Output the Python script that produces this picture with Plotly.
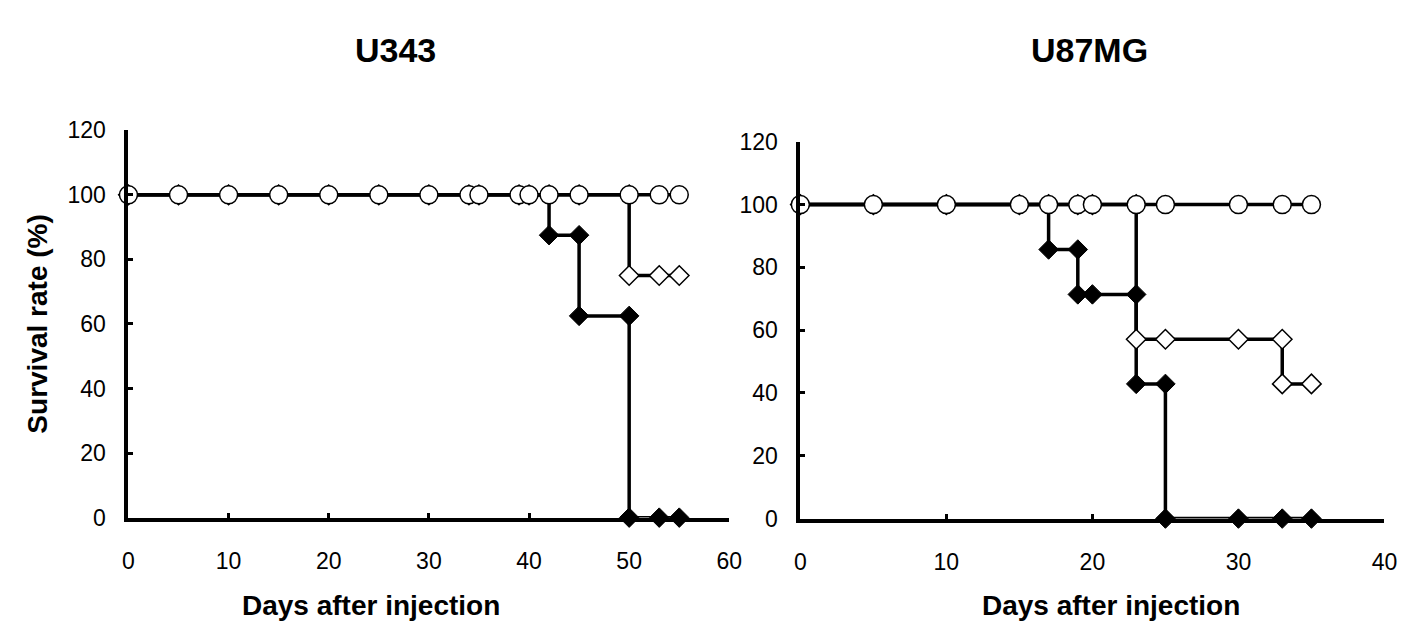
import plotly.graph_objects as go

# ---------------- data ----------------
# U343 panel
u343_days = [0, 5, 10, 15, 20, 25, 30, 34, 35, 39, 40, 42, 45, 50, 53, 55]
u343_circle = [100, 100, 100, 100, 100, 100, 100, 100, 100, 100, 100, 100, 100, 100, 100, 100]
u343_filled = [100, 100, 100, 100, 100, 100, 100, 100, 100, 100, 100, 87.5, 62.5, 0, 0, 0]
u343_open = [100, 100, 100, 100, 100, 100, 100, 100, 100, 100, 100, 100, 100, 75, 75, 75]

# U87MG panel
u87_days = [0, 5, 10, 15, 17, 19, 20, 23, 25, 30, 33, 35]
u87_circle = [100, 100, 100, 100, 100, 100, 100, 100, 100, 100, 100, 100]
u87_filled = [100, 100, 100, 100, 85.7, 71.4, 71.4, 42.9, 0, 0, 0, 0]
u87_open = [100, 100, 100, 100, 100, 100, 100, 57.1, 57.1, 57.1, 42.9, 42.9]

x_ticks_u343 = [0, 10, 20, 30, 40, 50, 60]
x_ticks_u87 = [0, 10, 20, 30, 40]
y_ticks = [0, 20, 40, 60, 80, 100, 120]

panel_titles = ["U343", "U87MG"]
x_title = "Days after injection"
y_title = "Survival rate (%)"


def step_path(days, surv):
    """Kaplan-Meier style path: vertical drop at the day of the change."""
    xs, ys = [days[0]], [surv[0]]
    for i in range(1, len(days)):
        if surv[i] != surv[i - 1]:
            xs.append(days[i]); ys.append(surv[i - 1])
        xs.append(days[i]); ys.append(surv[i])
    return xs, ys


FONT = "Arial, Liberation Sans, sans-serif"
fig = go.Figure()

panels = [
    (u343_days, u343_filled, u343_open, u343_circle, "x", "y"),
    (u87_days, u87_filled, u87_open, u87_circle, "x2", "y2"),
]

for days, filled, opn, circ, xa, ya in panels:
    fx, fy = step_path(days, filled)
    fig.add_trace(go.Scatter(
        x=fx, y=fy, xaxis=xa, yaxis=ya, mode="lines+markers",
        line=dict(color="black", width=3.5),
        marker=dict(symbol="diamond", size=15, color="black",
                    line=dict(color="black", width=1)),
        cliponaxis=False, showlegend=False))
    ox, oy = step_path(days, opn)
    fig.add_trace(go.Scatter(
        x=ox, y=oy, xaxis=xa, yaxis=ya, mode="lines+markers",
        line=dict(color="black", width=3.5),
        marker=dict(symbol="diamond", size=15, color="white",
                    line=dict(color="black", width=1.5)),
        cliponaxis=False, showlegend=False))
    cx, cy = step_path(days, circ)
    fig.add_trace(go.Scatter(
        x=cx, y=cy, xaxis=xa, yaxis=ya, mode="lines+markers",
        line=dict(color="black", width=3.5),
        marker=dict(symbol="circle", size=18, color="white",
                    line=dict(color="black", width=1.5)),
        cliponaxis=False, showlegend=False))

W, H = 1423, 630


def px(x):
    return x / W


def py(y):
    return 1 - y / H


axis_common = dict(
    showgrid=False, zeroline=False, showline=True, linecolor="black",
    linewidth=4, ticks="inside", ticklen=5, tickwidth=3, tickcolor="black",
    tickfont=dict(family=FONT, size=23, color="black"),
)

fig.update_layout(
    width=W, height=H,
    margin=dict(l=0, r=0, t=0, b=0),
    paper_bgcolor="white", plot_bgcolor="white",
    xaxis=dict(domain=[px(116), px(725)], range=[0, 60], tickvals=x_ticks_u343,
               anchor="y", ticklabelstandoff=20, **axis_common),
    yaxis=dict(domain=[py(518), py(114)], range=[0, 120], tickvals=y_ticks,
               anchor="x", ticklabelstandoff=14, **axis_common),
    xaxis2=dict(domain=[px(797), px(1389)], range=[0, 40], tickvals=x_ticks_u87,
                anchor="y2", ticklabelstandoff=20, **axis_common),
    yaxis2=dict(domain=[py(519), py(126)], range=[0, 120], tickvals=y_ticks,
                anchor="x2", ticklabelstandoff=14, **axis_common),
    annotations=[
        dict(text=f"<b>{panel_titles[0]}</b>", x=px(387), y=py(30), xref="paper", yref="paper",
             showarrow=False, xanchor="center", yanchor="middle",
             font=dict(family=FONT, size=34, color="black")),
        dict(text=f"<b>{panel_titles[1]}</b>", x=px(1090), y=py(30), xref="paper", yref="paper",
             showarrow=False, xanchor="center", yanchor="middle",
             font=dict(family=FONT, size=34, color="black")),
        dict(text=f"<b>{x_title}</b>", x=px(362), y=py(610), xref="paper", yref="paper",
             showarrow=False, xanchor="center", yanchor="middle",
             font=dict(family=FONT, size=28, color="black")),
        dict(text=f"<b>{x_title}</b>", x=px(1112), y=py(610), xref="paper", yref="paper",
             showarrow=False, xanchor="center", yanchor="middle",
             font=dict(family=FONT, size=28, color="black")),
        dict(text=f"<b>{y_title}</b>", x=px(24), y=py(316), xref="paper", yref="paper",
             showarrow=False, xanchor="center", yanchor="middle", textangle=-90,
             font=dict(family=FONT, size=28, color="black")),
    ],
)

fig.write_html("out.html")
